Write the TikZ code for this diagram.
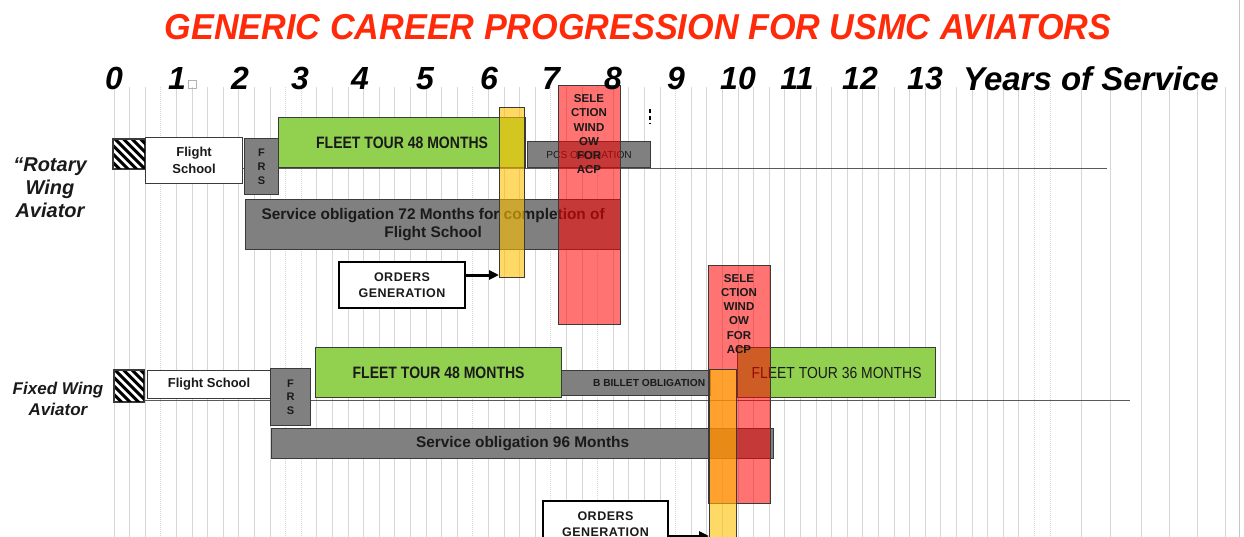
\documentclass[tikz,border=0pt]{standalone}
\usepackage{fontspec}
\setmainfont{Liberation Sans}
\usetikzlibrary{arrows.meta}
\definecolor{ttl}{HTML}{FF2A0A}
\definecolor{grn}{HTML}{92D050}
\definecolor{gbox}{HTML}{808080}
\definecolor{edge}{HTML}{3A3A3A}
\definecolor{txt}{HTML}{1A1A1A}
\definecolor{gridc}{HTML}{D6D6D6}
\definecolor{tl}{HTML}{5A5A5A}
\definecolor{ylw}{HTML}{FFC000}
\tikzset{
 bar/.style={draw=edge, line width=1.2pt, inner sep=0pt, anchor=north west, text=txt, align=center},
 grnbox/.style={bar, fill=grn},
 graybox/.style={bar, fill=gbox},
 whitebox/.style={bar, fill=white},
 selbox/.style={bar, fill=red, fill opacity=0.55},
 ylwbar/.style={bar, fill=ylw, fill opacity=0.6},
 ordbox/.style={bar, draw=black, line width=2pt, fill=white, font=\fontsize{12.5}{16.5}\selectfont\bfseries\addfontfeatures{LetterSpace=4}},
 seltext/.style={inner sep=0pt, anchor=north, align=center, text=txt, font=\fontsize{11.5}{14.2}\selectfont\bfseries},
 frstext/.style={font=\fontsize{11}{13.8}\selectfont\bfseries},
 yr/.style={font=\fontsize{32}{32}\selectfont\bfseries\itshape, anchor=base, inner sep=0pt},
 gridln/.style={draw=gridc, line width=1pt},
 gridlnd/.style={draw=gridc, line width=1pt, dash pattern=on 1pt off 1pt},
 tline/.style={draw=tl, line width=1.5pt},
 arr/.style={draw=black, line width=3pt, -{Triangle[length=10pt,width=9pt]}},
 hatchline/.style={draw=black, line width=3pt},
 rowlabel/.style={align=center, text=txt, inner sep=0pt, font=\bfseries\itshape},
}
\begin{document}
\begin{tikzpicture}[x=1pt,y=-1pt]
\useasboundingbox (0,0) rectangle (1244,537);
\clip (0,0) rectangle (1244,537);
% grid
\foreach \i in {0,...,60}{
  \pgfmathsetmacro\gx{114+15.6*\i}
  \draw[gridln] (\gx,87) -- (\gx,537);
}
\foreach \i in {3,11,12,23,28,31,36,59,60}{
  \pgfmathsetmacro\gx{114+15.6*\i}
  \draw[white, line width=1.1pt] (\gx,87) -- (\gx,537);
  \draw[gridlnd] (\gx,87) -- (\gx,537);
}
\foreach \gx in {1081,1110,1141,1169,1197,1225}{
  \draw[gridln] (\gx,87) -- (\gx,537);
}
\draw[draw=gray!45, line width=1pt] (1239,0) -- (1239,537);

% timelines
\coordinate (rl0) at (113,168.5);
\coordinate (rl1) at (1107,168.5);
\coordinate (fl0) at (113,400.5);
\coordinate (fl1) at (1130,400.5);
\draw[tline] (rl0) -- (rl1);
\draw[tline] (fl0) -- (fl1);

% ---------- Rotary row ----------
\node[whitebox, minimum width=31, minimum height=29] (rh) at (113,139) {};
\begin{scope}
 \clip (rh.south west) rectangle (rh.north east);
 \foreach \k in {78,86.5,...,150}{ \draw[hatchline] (\k,136) -- ++(36,36); }
\end{scope}
\draw[edge, line width=1.2pt] (rh.south west) rectangle (rh.north east);

\node[whitebox, minimum width=97, minimum height=46, font=\fontsize{13}{16.5}\selectfont\bfseries] (rfs) at (145,137) {Flight\\School};
\node[graybox, minimum width=34, minimum height=56, frstext] (rfrs) at (244,138) {F\\R\\S};
\node[grnbox, minimum width=247, minimum height=50] (rft) at (278,117)
  {\fontsize{16.5}{16.5}\selectfont\bfseries\scalebox{0.85}[1]{FLEET TOUR 48 MONTHS}};
\node[graybox, minimum width=123, minimum height=26, font=\fontsize{10.2}{10.2}\selectfont] (rpcs) at (527,141) {PCS OBLIGATION};
\node[graybox, minimum width=375, minimum height=50, font=\fontsize{15.4}{18.5}\selectfont\bfseries] (rso) at (245,199)
  {Service obligation 72 Months for completion of\\Flight School};
\coordinate (rdash0) at (650,109);
\coordinate (rdash1) at (650,124);
\draw[black, line width=1.2pt, dash pattern=on 4pt off 3pt] (rdash0) -- (rdash1);

\node[selbox, minimum width=62, minimum height=239] (rsel) at (558,85) {};
\node[seltext] (rselt) at (589,94.5) {SELE\\CTION\\WIND\\OW\\FOR\\ACP};
\node[ylwbar, minimum width=25, minimum height=170] (ryb) at (499,107) {};
\node[ordbox, minimum width=126, minimum height=46] (rord) at (338,261) {ORDERS\\GENERATION};
\draw[arr] ([yshift=10pt]rord.east) -- ([yshift=10pt]rord.east -| ryb.west);

% ---------- Fixed row ----------
\node[whitebox, minimum width=29, minimum height=31] (fh) at (114,370) {};
\begin{scope}
 \clip (fh.south west) rectangle (fh.north east);
 \foreach \k in {78,86.5,...,150}{ \draw[hatchline] (\k,367) -- ++(38,38); }
\end{scope}
\draw[edge, line width=1.2pt] (fh.south west) rectangle (fh.north east);

\node[whitebox, minimum width=123, minimum height=28, font=\fontsize{13}{16}\selectfont\bfseries] (ffs) at (147,370) {Flight School};
\node[graybox, minimum width=40, minimum height=57, frstext] (ffrs) at (270,368) {F\\R\\S};
\node[grnbox, minimum width=246, minimum height=50] (fft) at (315,347)
  {\fontsize{16.5}{16.5}\selectfont\bfseries\scalebox{0.85}[1]{FLEET TOUR 48 MONTHS}};
\node[graybox, minimum width=149, minimum height=25, font=\fontsize{10.2}{10.2}\selectfont\bfseries] (fbb) at (561,370) {\hspace*{26pt}B BILLET OBLIGATION};
\node[grnbox, minimum width=198, minimum height=50] (fft2) at (737,347)
  {\fontsize{16}{16}\selectfont\scalebox{0.87}[1]{FLEET TOUR 36 MONTHS}};
\node[graybox, minimum width=502, minimum height=30, font=\fontsize{15.4}{18.5}\selectfont\bfseries] (fso) at (271,428) {Service obligation 96 Months};

\node[selbox, minimum width=62, minimum height=238] (fsel) at (708,265) {};
\node[seltext] (fselt) at (739,274) {SELE\\CTION\\WIND\\OW\\FOR\\ACP};
\node[ylwbar, minimum width=27, minimum height=180] (fyb) at (709,369) {};
\node[ordbox, minimum width=125, minimum height=46] (ford) at (542,500) {ORDERS\\GENERATION};
\draw[arr] ([yshift=-12pt]ford.east) -- ([yshift=-12pt]ford.east -| fyb.west);

% ---------- labels ----------
\node[rowlabel, font=\fontsize{20}{23}\selectfont\bfseries\itshape] (lrot) at (50,188) {“Rotary\\Wing\\Aviator};
\node[rowlabel, font=\fontsize{17}{21}\selectfont\bfseries\itshape] (lfix) at (58,399) {Fixed Wing\\Aviator};

% years
\foreach \n/\xx in {0/114,1/177,2/240,3/300,4/360,5/425,6/489,7/551,8/613,9/676,10/738,11/797,12/860,13/925}{
  \node[yr] (yr\n) at (\xx,90) {\n};
}
\node[draw=gray!60, line width=0.8pt, minimum width=8, minimum height=8, inner sep=0pt, anchor=north west] (sq) at (188,80) {};
\node[font=\fontsize{33}{33}\selectfont\bfseries\itshape, anchor=base west, inner sep=0pt] (yos) at (963,91) {Years of Service};

% title
\node[font=\fontsize{36}{36}\selectfont\bfseries\itshape, text=ttl, anchor=base, inner sep=0pt] (title) at (638,40)
  {\scalebox{0.95}[1]{GENERIC CAREER PROGRESSION FOR USMC AVIATORS}};
\end{tikzpicture}
\end{document}
